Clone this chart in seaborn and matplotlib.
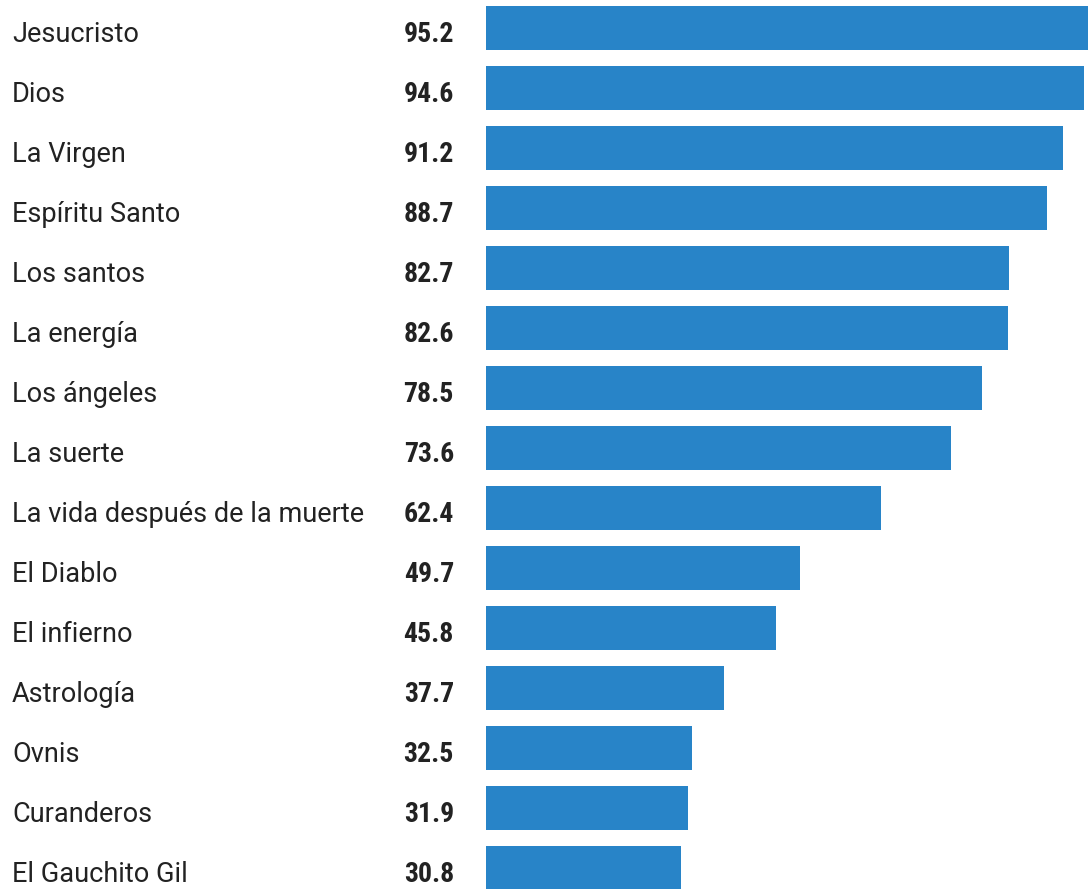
import matplotlib
matplotlib.use("Agg")
import matplotlib.pyplot as plt
import matplotlib.transforms as mtransforms
import seaborn as sns
import pandas as pd

# creencias y porcentaje
categories = [
    "Jesucristo", "Dios", "La Virgen", "Espíritu Santo", "Los santos",
    "La energía", "Los ángeles", "La suerte", "La vida después de la muerte",
    "El Diablo", "El infierno", "Astrología", "Ovnis", "Curanderos",
    "El Gauchito Gil",
]
values = [95.2, 94.6, 91.2, 88.7, 82.7, 82.6, 78.5, 73.6, 62.4,
          49.7, 45.8, 37.7, 32.5, 31.9, 30.8]

df = pd.DataFrame({"creencia": categories, "pct": values})

W, H = 1091, 889
BAR_COLOR = "#2884c8"
TEXT_COLOR = "#222222"

sns.set_theme(style="white")
fig = plt.figure(figsize=(W / 100, H / 100), dpi=100)
ax = fig.add_axes([486 / W, 0, 1 - 486 / W, 1])

sns.barplot(data=df, x="pct", y="creencia", orient="h", color=BAR_COLOR,
            width=44 / 60, saturation=1, linewidth=0, ax=ax)

px_per_unit = (1088 - 486) / 95.2
ax.set_xlim(0, (W - 486) / px_per_unit)
ax.set_ylim((H - 28) / 60, -28 / 60)
ax.axis("off")

label_font = ["Roboto", "DejaVu Sans"]
value_font = ["Roboto Condensed", "Liberation Sans Narrow", "DejaVu Sans Condensed", "Roboto"]

trans = mtransforms.blended_transform_factory(fig.transFigure, ax.transData)
for i, (name, v) in enumerate(zip(categories, values)):
    y = i + 14.5 / 60
    fig.text(12 / W, y, name, transform=trans, ha="left", va="baseline",
             fontsize=19.5, color=TEXT_COLOR, family=label_font)
    fig.text(454 / W, y, f"{v:.1f}", transform=trans, ha="right", va="baseline",
             fontsize=20, fontweight="bold", color=TEXT_COLOR, family=value_font)

fig.savefig("out.png", dpi=100)
